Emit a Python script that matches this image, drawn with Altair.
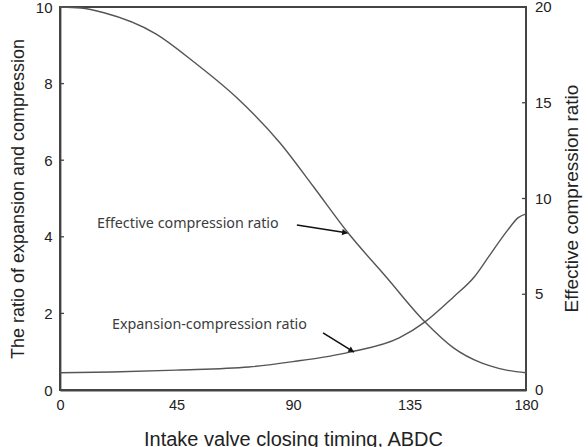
import altair as alt
import pandas as pd
import numpy as np

# ---- data ----
timing_eff = [0, 8, 17, 37, 52, 68, 85, 98, 111, 126, 141, 152, 163, 172, 180]
eff_ratio = [20.0, 19.95, 19.7, 18.6, 17.1, 15.3, 12.9, 10.6, 8.25, 5.9, 3.55, 2.2, 1.4, 1.05, 0.9]

timing_exp = [0, 20, 45, 73, 90, 112, 131, 141, 152, 160, 166, 173, 177, 180]
exp_ratio = [0.45, 0.47, 0.52, 0.6, 0.74, 0.99, 1.36, 1.78, 2.43, 2.95, 3.52, 4.18, 4.5, 4.6]

x_ticks = [0, 45, 90, 135, 180]
left_ticks = [0, 2, 4, 6, 8, 10]
right_ticks = [0, 5, 10, 15, 20]
right_title = "Effective compression ratio"

label_text = ["Effective compression ratio", "Expansion-compression ratio"]
label_x = [14.3, 20.1]
label_y = [4.33, 1.70]
arrow_x0 = [91.5, 101.6]
arrow_y0 = [4.31, 1.49]
arrow_x1 = [111.2, 113.6]
arrow_y1 = [4.10, 0.99]

W, H = 466, 383
XMIN, XMAX, LMAX, RMAX = 0, 180, 10, 20
LINE = "#555555"
TXT = "#222222"
FRAME = "#444444"
FONT = "Liberation Sans"

px_x = (XMAX - XMIN) / W   # data units per pixel (x)
px_l = LMAX / H            # data units per pixel (left y)

df_eff = pd.DataFrame({"t": timing_eff, "v": eff_ratio})
df_exp = pd.DataFrame({"t": timing_exp, "v": exp_ratio})
df_lab = pd.DataFrame({"t": label_x, "v": label_y, "text": label_text})

# frame of the plot area drawn as one closed path
df_frame = pd.DataFrame({"t": [XMIN, XMAX, XMAX, XMIN, XMIN],
                         "v": [0, 0, LMAX, LMAX, 0], "o": [0, 1, 2, 3, 4]})

# inward tick marks (4 px long), each a two-point path
def tick_paths(values, x_from, x_to):
    rows = []
    for i, v in enumerate(values):
        rows.append({"id": i, "t": x_from, "v": v, "o": 0})
        rows.append({"id": i, "t": x_to, "v": v, "o": 1})
    return pd.DataFrame(rows)

df_lt = tick_paths(left_ticks, XMIN, XMIN + 4 * px_x)
df_rt = tick_paths(right_ticks, XMAX - 4 * px_x, XMAX)

# right axis labels and title
df_rl = pd.DataFrame({"t": [XMAX] * len(right_ticks), "v": right_ticks,
                      "text": [str(v) for v in right_ticks]})
df_rtitle = pd.DataFrame({"t": [XMAX + 46 * px_x], "v": [RMAX / 2], "text": [right_title]})

# arrowheads: direction in screen pixels
ax0, ay0, ax1, ay1 = map(np.array, (arrow_x0, arrow_y0, arrow_x1, arrow_y1))
dxp = (ax1 - ax0) / px_x
dyp = -(ay1 - ay0) / px_l
ang = np.degrees(np.arctan2(dyp, dxp))
back = 3.0
hx = ax1 - back * np.cos(np.radians(ang)) * px_x
hy = ay1 + back * np.sin(np.radians(ang)) * px_l
df_arr = pd.DataFrame({"t": arrow_x0, "v": arrow_y0, "t2": arrow_x1, "v2": arrow_y1})
df_head = pd.DataFrame({"t": hx, "v": hy, "angle": ang + 90})

xscale = alt.Scale(domain=[XMIN, XMAX], nice=False, zero=False)
X = alt.X("t:Q", scale=xscale,
          axis=alt.Axis(values=x_ticks, title="Intake valve closing timing, ABDC",
                        ticks=False, domain=True, domainColor=FRAME, domainWidth=1.8,
                        grid=False, labelPadding=8, labelFlush=False,
                        labelFontSize=14.5, titleFontSize=20, titlePadding=18,
                        labelColor=TXT, titleColor=TXT, labelFont=FONT, titleFont=FONT,
                        titleFontWeight="normal"))
YL = alt.Y("v:Q", scale=alt.Scale(domain=[0, LMAX], nice=False),
           axis=alt.Axis(values=left_ticks, title="The ratio of expansion and compression",
                         orient="left", ticks=False,
                         domain=True, domainColor=FRAME, domainWidth=1.8,
                         grid=False, labelPadding=8, labelFontSize=15,
                         titleFontSize=18, titlePadding=8, labelColor=TXT, titleColor=TXT,
                         labelFont=FONT, titleFont=FONT, titleFontWeight="normal"))
YR = alt.Y("v:Q", scale=alt.Scale(domain=[0, RMAX], nice=False), axis=None)

frame = alt.Chart(df_frame).mark_line(color=FRAME, strokeWidth=1.8, strokeCap="square").encode(
    x=X, y=YL, order="o:O")
lticks = alt.Chart(df_lt).mark_line(color=FRAME, strokeWidth=1.3).encode(
    x=X, y=YL, detail="id:N", order="o:O")
exp_line = alt.Chart(df_exp).mark_line(color=LINE, strokeWidth=1.4, interpolate="monotone").encode(x=X, y=YL)
labels = alt.Chart(df_lab).mark_text(align="left", baseline="middle", font="Noto Sans",
                                     fontSize=14.3, color="#3c3c3c").encode(x=X, y=YL, text="text:N")
arrows = alt.Chart(df_arr).mark_rule(color="#111111", strokeWidth=1.6).encode(x=X, y=YL, x2="t2:Q", y2="v2:Q")
heads = alt.Chart(df_head).mark_point(shape="triangle-up", filled=True, size=40,
                                      color="#111111", opacity=1).encode(
    x=X, y=YL, angle=alt.Angle("angle:Q", scale=None))
left_layer = alt.layer(frame, lticks, exp_line, arrows, heads, labels)

eff_line = alt.Chart(df_eff).mark_line(color=LINE, strokeWidth=1.4, interpolate="monotone").encode(x=X, y=YR)
rticks = alt.Chart(df_rt).mark_line(color=FRAME, strokeWidth=1.3).encode(
    x=X, y=YR, detail="id:N", order="o:O")
rlabels = alt.Chart(df_rl).mark_text(align="left", baseline="middle", dx=9, font=FONT,
                                     fontSize=15, color=TXT).encode(x=X, y=YR, text="text:N")
rtitle = alt.Chart(df_rtitle).mark_text(align="center", baseline="middle", angle=270, font=FONT,
                                        fontSize=19, color=TXT).encode(x=X, y=YR, text="text:N")
right_layer = alt.layer(eff_line, rticks, rlabels, rtitle)

chart = alt.layer(left_layer, right_layer).resolve_scale(y="independent").properties(
    width=W, height=H, background="white",
    autosize=alt.AutoSizeParams(type="none"),
    padding={"left": 60, "top": 7, "right": 62, "bottom": 57},
).configure_view(stroke=FRAME, strokeWidth=1.8)

chart.save("out.html", embed_options={"renderer": "svg", "actions": False})
